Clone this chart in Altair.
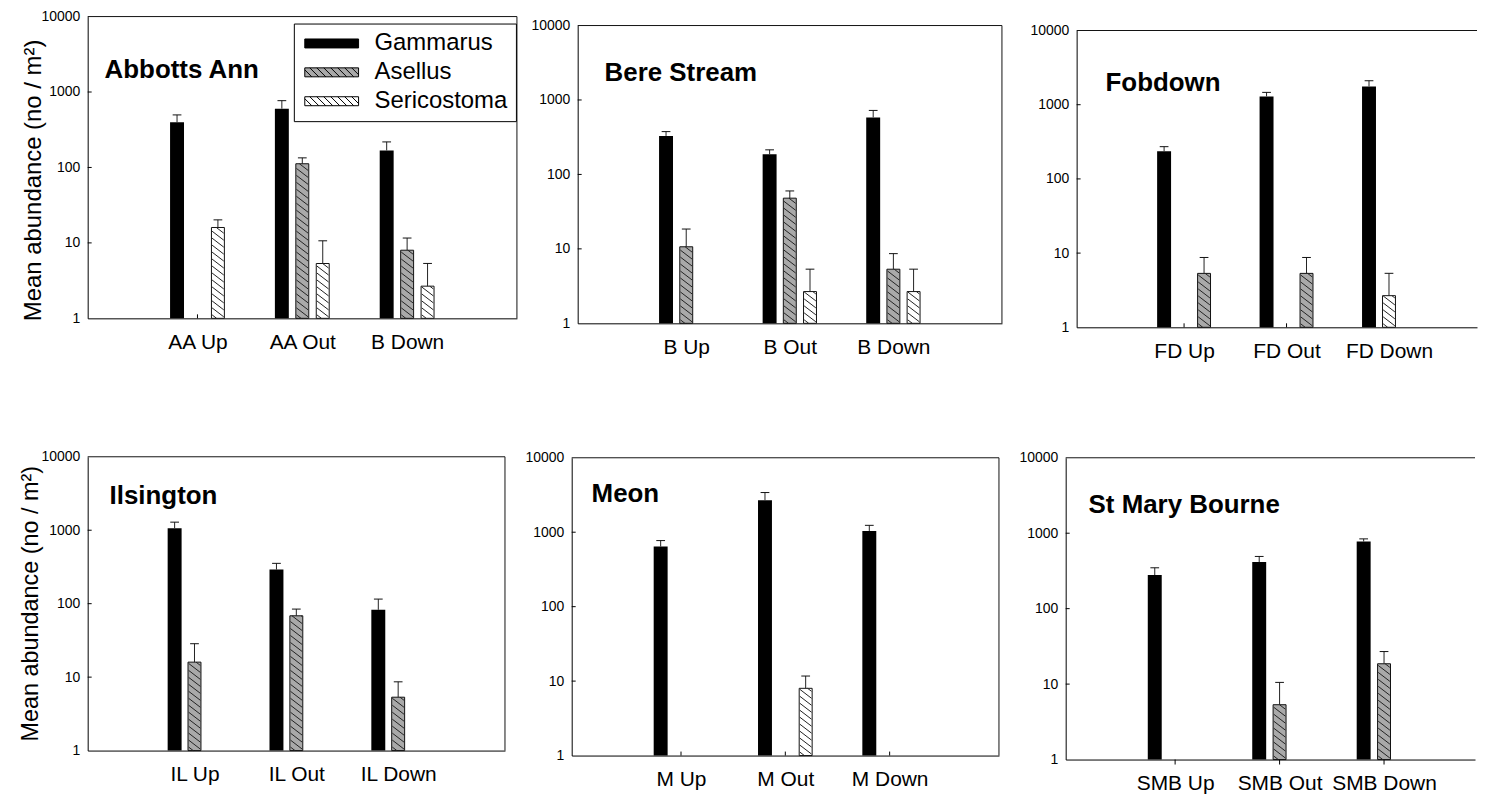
import json
import numpy as np
import pandas as pd
import altair as alt

FONT = "Liberation Sans"

# ---------------- data ----------------
species = ["Gammarus", "Asellus", "Sericostoma"]
fills = ["#000000", "#a9a9a9", "#ffffff"]

sites = ["Abbotts Ann", "Bere Stream", "Fobdown", "Ilsington", "Meon", "St Mary Bourne"]
categories = [
    ["AA Up", "AA Out", "B Down"],
    ["B Up", "B Out", "B Down"],
    ["FD Up", "FD Out", "FD Down"],
    ["IL Up", "IL Out", "IL Down"],
    ["M Up", "M Out", "M Down"],
    ["SMB Up", "SMB Out", "SMB Down"],
]
gammarus_mean = [[397, 602, 168], [329, 187, 583], [236, 1294, 1765],
                 [1067, 291, 82.5], [642, 2694, 1040], [279, 414, 776]]
gammarus_se = [[100, 166, 50], [47, 27, 141], [36, 172, 339],
               [221, 63, 33], [130, 717, 197], [69, 78, 65]]
asellus_mean = [[0, 112, 8.0], [10.67, 48, 5.33], [5.33, 5.33, 0],
                [16, 68.4, 5.33], [0, 0, 0], [0, 5.33, 18.6]]
asellus_se = [[0, 22, 3.6], [7.8, 12, 3.3], [3.4, 3.4, 0],
              [12.5, 16, 3.3], [0, 0, 0], [0, 5.2, 8.4]]
sericostoma_mean = [[16, 5.33, 2.67], [0, 2.67, 2.67], [0, 0, 2.67],
                    [0, 0, 0], [0, 8.0, 0], [0, 0, 0]]
sericostoma_se = [[4.2, 5.33, 2.67], [0, 2.67, 2.67], [0, 0, 2.67],
                  [0, 0, 0], [0, 3.7, 0], [0, 0, 0]]
y_ticks = [1, 10, 100, 1000, 10000]
y_title = "Mean abundance (no / m\u00b2)"

# ---------------- layout / style per panel ----------------
STD = [-0.195, 0.0, 0.195]
panel_cfg = [
    dict(W=431, H=303, top=0, dmax=4.0, slots=STD, tpos=(17, 62), ytitle=(24, -54, 164),
         right=True, push_left=0, tick_out=False, legend=True),
    dict(W=426, H=308, top=9, dmax=4.0, slots=STD, tpos=(27, 65), ytitle=None,
         right=True, push_left=0, tick_out=False, legend=False),
    dict(W=402, H=312, top=14, dmax=402 / 105.5, slots=[-0.195, 0.195, 0.0], tpos=(29, 75),
         ytitle=None, right=False, push_left=61, tick_out=False, legend=False),
    dict(W=419, H=295, top=0, dmax=4.0, slots=STD, tpos=(22, 47), ytitle=(23.5, -57.5, 147),
         right=True, push_left=0, tick_out=False, legend=False),
    dict(W=429, H=300, top=1, dmax=4.0, slots=STD, tpos=(20, 45), ytitle=None,
         right=True, push_left=0, tick_out=False, legend=False),
    dict(W=411, H=304, top=1, dmax=411 / 107.5, slots=STD, tpos=(23, 56), ytitle=None,
         right=False, push_left=0, tick_out=True, legend=False),
]


def swatch_path(hatched):
    p = "M-1,-0.5H5V0.5H-1Z"
    if hatched:
        x0 = -2.0
        while x0 < 5:
            t0 = max(0.0, -1 - x0)
            t1 = min(1.0, 5 - x0)
            if t1 > t0:
                p += f"M{x0 + t0:.3f},{-0.5 + t0:.3f}L{x0 + t1:.3f},{-0.5 + t1:.3f}"
            x0 += 0.78
    return p


def build_panel(i):
    c = panel_cfg[i]
    W, H, top, dmax = c["W"], c["H"], c["top"], c["dmax"]
    ppu = W / dmax
    ppd = (H - top) / 4.0
    cats = categories[i]
    means = [gammarus_mean[i], asellus_mean[i], sericostoma_mean[i]]
    ses = [gammarus_se[i], asellus_se[i], sericostoma_se[i]]

    recs = []
    for s, sp in enumerate(species):
        for k, cat in enumerate(cats):
            v = means[s][k]
            if v <= 0:
                continue
            pos = k + 1 + c["slots"][s]
            recs.append({"species": sp, "category": cat, "pos": pos, "mean": v, "base": 1.0,
                         "upper": v + ses[s][k], "cap_l": pos - 4.5 / ppu, "cap_r": pos + 4.5 / ppu})
    df = pd.DataFrame(recs)

    # hatch segments for patterned bars
    hw, slope, spacing = 6.0, 0.75, 7.0
    hrec = []
    for r in recs:
        if r["species"] == "Gammarus":
            continue
        utop = np.log10(r["mean"]) * ppd
        a = spacing * 0.5
        while a <= utop + slope * 2 * hw:
            xs = max(-hw, (a - utop) / slope - hw)
            xe = min(hw, a / slope - hw)
            if xe > xs:
                us = a - slope * (xs + hw)
                ue = a - slope * (xe + hw)
                hrec.append({"hx": r["pos"] + xs / ppu, "hx2": r["pos"] + xe / ppu,
                             "hy": 10 ** (us / ppd), "hy2": 10 ** (ue / ppd)})
            a += spacing
    hdf = pd.DataFrame(hrec if hrec else [{"hx": 0.0, "hx2": 0.0, "hy": 1.0, "hy2": 1.0}])

    xscale = alt.Scale(domain=[0, dmax], nice=False, zero=False)
    yscale = alt.Scale(type="log", domain=[1, 10000], range=[H, top], nice=False)
    label_expr = json.dumps([""] + cats) + "[datum.value]"
    xaxis = alt.Axis(values=[1, 2, 3], labelExpr=label_expr, ticks=False, grid=False, title=None,
                     labelFontSize=21, labelPadding=13, labelColor="black", domainColor="black",
                     labelFont=FONT, labelFlush=False, labelOverlap=False)
    ykw = dict(values=y_ticks, format="d", ticks=False, grid=False, labelFontSize=14,
               labelPadding=8, labelColor="black", domainColor="black", labelFont=FONT,
               labelOverlap=False, labelFlush=False)
    if c["ytitle"]:
        fs, tx, ty = c["ytitle"]
        ykw.update(title=y_title, titleFontSize=fs, titleFontWeight="normal", titleColor="black",
                   titleFont=FONT, titleX=tx, titleY=ty, titleBaseline="middle", titleAlign="center")
    else:
        ykw["title"] = None
    yaxis = alt.Axis(**ykw)

    layers = []
    # inner ticks
    layers.append(
        alt.Chart(pd.DataFrame({"t": [1, 2, 3]})).mark_rule(color="black", strokeWidth=1).encode(
            x=alt.X("t:Q", scale=xscale, axis=xaxis),
            y=alt.value(H), y2=alt.value(H + 5 if c["tick_out"] else H - 4)))
    layers.append(
        alt.Chart(pd.DataFrame({"v": [10, 100, 1000]})).mark_rule(color="black", strokeWidth=1).encode(
            y=alt.Y("v:Q", scale=yscale, axis=yaxis),
            x=alt.value(0), x2=alt.value(4)))
    # bars
    for s, sp in enumerate(species):
        kw = dict(size=14 if s == 0 else 13, fill=fills[s])
        if s > 0:
            kw.update(stroke="#111111", strokeWidth=1)
        layers.append(
            alt.Chart(df).transform_filter(alt.datum.species == sp).mark_bar(**kw).encode(
                x=alt.X("pos:Q", scale=xscale, axis=xaxis),
                y=alt.Y("mean:Q", scale=yscale, axis=yaxis),
                y2="base:Q"))
    # hatching
    layers.append(
        alt.Chart(hdf).mark_rule(color="#222222", strokeWidth=1,
                                 opacity=1 if hrec else 0).encode(
            x=alt.X("hx:Q", scale=xscale, axis=xaxis), x2="hx2:Q",
            y=alt.Y("hy:Q", scale=yscale, axis=yaxis), y2="hy2:Q"))
    # error bars
    layers.append(
        alt.Chart(df).mark_rule(color="#222222", strokeWidth=1).encode(
            x=alt.X("pos:Q", scale=xscale, axis=xaxis),
            y=alt.Y("mean:Q", scale=yscale, axis=yaxis), y2="upper:Q"))
    layers.append(
        alt.Chart(df).mark_rule(color="#111111", strokeWidth=1).encode(
            x=alt.X("cap_l:Q", scale=xscale, axis=xaxis), x2="cap_r:Q",
            y=alt.Y("upper:Q", scale=yscale, axis=yaxis)))
    # frame (top / right)
    one = pd.DataFrame({"k": [0]})
    layers.append(alt.Chart(one).mark_rule(color="#111111", strokeWidth=1).encode(
        x=alt.value(0), x2=alt.value(W), y=alt.value(top)))
    if c["right"]:
        layers.append(alt.Chart(one).mark_rule(color="#111111", strokeWidth=1).encode(
            x=alt.value(W), y=alt.value(top), y2=alt.value(H)))
    if c["push_left"]:
        layers.append(alt.Chart(one).mark_rule(opacity=0).encode(
            x=alt.value(-c["push_left"]), y=alt.value(H - 1), y2=alt.value(H)))
    # site title
    layers.append(
        alt.Chart(pd.DataFrame({"t": [sites[i]]})).mark_text(
            font=FONT, fontSize=26, fontWeight="bold", align="left", baseline="alphabetic",
            color="black").encode(x=alt.value(c["tpos"][0]), y=alt.value(c["tpos"][1]), text="t:N"))
    # legend
    if c["legend"]:
        paths = [swatch_path(False), swatch_path(True), swatch_path(True)]
        leg = alt.Legend(title=None, orient="none", legendX=207, legendY=7, padding=8,
                         strokeColor="black", fillColor="white", labelFontSize=24, labelFont=FONT,
                         labelColor="black", labelOffset=49, rowPadding=5, symbolSize=324,
                         symbolStrokeColor="black", symbolStrokeWidth=1, symbolOpacity=1,
                         labelLimit=400)
        layers.append(
            alt.Chart(pd.DataFrame({"species": species})).transform_filter("false").mark_point(
                filled=True, size=324, strokeWidth=1, opacity=1).encode(
                fill=alt.Fill("species:N", scale=alt.Scale(domain=species, range=fills), legend=leg),
                stroke=alt.Stroke("species:N", scale=alt.Scale(domain=species, range=["#000000"] * 3),
                                  legend=leg),
                shape=alt.Shape("species:N", scale=alt.Scale(domain=species, range=paths), legend=leg)))

    return alt.layer(*layers).properties(width=W, height=H)


row1 = alt.hconcat(build_panel(0), build_panel(1), build_panel(2), spacing=13)
row2 = alt.hconcat(build_panel(3), build_panel(4), build_panel(5), spacing=19)

chart = alt.vconcat(row1, row2, spacing=89).properties(
    padding={"left": 10, "top": 0, "right": 0, "bottom": 0}
).configure(font=FONT).configure_view(strokeOpacity=0)

chart.save("out.html", embed_options={"renderer": "svg", "actions": False})
